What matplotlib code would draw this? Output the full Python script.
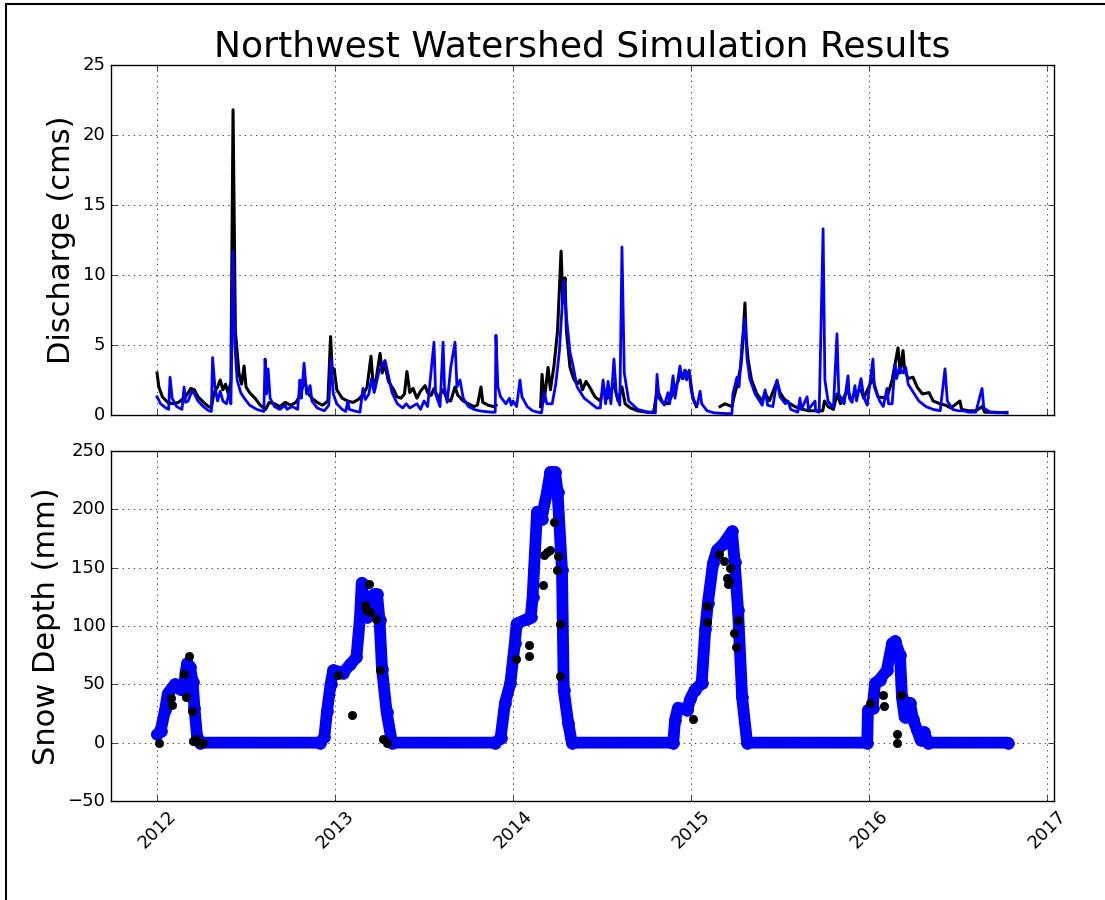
import numpy as np
import pandas as pd
import matplotlib
matplotlib.use('Agg')
import matplotlib.pyplot as plt
from matplotlib.patches import Rectangle

plt.style.use('classic')

# ---- discharge (cms), time in decimal years ----
obs_q_t = [2012.000, 2012.010, 2012.030, 2012.060, 2012.090, 2012.120, 2012.160, 2012.190,
           2012.210, 2012.230, 2012.270, 2012.290, 2012.305, 2012.320, 2012.340, 2012.355,
           2012.370, 2012.385, 2012.400, 2012.415, 2012.427, 2012.432, 2012.440, 2012.460,
           2012.475, 2012.489, 2012.500, 2012.520, 2012.550, 2012.580, 2012.600, 2012.610,
           2012.630, 2012.660, 2012.690, 2012.720, 2012.750, 2012.780, 2012.800, 2012.830,
           2012.845, 2012.870, 2012.900, 2012.930, 2012.960, 2012.975, 2012.985, 2012.995,
           2013.010, 2013.040, 2013.070, 2013.100, 2013.130, 2013.160, 2013.180, 2013.202,
           2013.215, 2013.230, 2013.253, 2013.265, 2013.280, 2013.300, 2013.330, 2013.348,
           2013.370, 2013.390, 2013.404, 2013.420, 2013.438, 2013.460, 2013.480, 2013.506,
           2013.520, 2013.540, 2013.556, 2013.580, 2013.607, 2013.630, 2013.650, 2013.674,
           2013.690, 2013.720, 2013.750, 2013.780, 2013.800, 2013.820, 2013.830, 2013.860,
           2013.890, 2013.905, 2014.000,
           2014.155, 2014.163, 2014.175, 2014.197, 2014.210, 2014.230, 2014.250, 2014.270,
           2014.280, 2014.292, 2014.300, 2014.320, 2014.340, 2014.360, 2014.376, 2014.390,
           2014.410, 2014.430, 2014.460, 2014.490, 2014.510, 2014.530, 2014.567, 2014.590,
           2014.612, 2014.630, 2014.660, 2014.700, 2014.750, 2014.790, 2014.810, 2014.840,
           2014.870, 2014.900, 2014.930, 2014.940, 2014.955, 2014.966, 2014.980, 2014.990,
           2015.010, 2015.030, 2015.100,
           2015.163, 2015.190, 2015.210, 2015.230, 2015.240, 2015.260, 2015.280, 2015.290,
           2015.303, 2015.310, 2015.320, 2015.340, 2015.370, 2015.400, 2015.416, 2015.440,
           2015.483, 2015.500, 2015.520, 2015.545, 2015.570, 2015.600, 2015.630, 2015.660,
           2015.700, 2015.740, 2015.750, 2015.770, 2015.800, 2015.820, 2015.840, 2015.880,
           2015.900, 2015.920, 2015.955, 2015.970, 2016.020, 2016.050, 2016.100, 2016.130,
           2016.163, 2016.175, 2016.191, 2016.200, 2016.220, 2016.247, 2016.270, 2016.300,
           2016.337, 2016.360, 2016.400, 2016.430, 2016.460, 2016.511, 2016.520, 2016.560,
           2016.600, 2016.635, 2016.650, 2016.700, 2016.775]
obs_q_v = [3.0, 2.0, 1.3, 0.9, 0.8, 0.9, 1.3, 1.9,
           1.8, 1.3, 0.8, 0.6, 0.5, 1.6, 2.0, 2.5,
           1.8, 2.2, 1.5, 2.4, 21.8, 16.0, 6.0, 3.0,
           2.2, 3.5, 2.0, 1.6, 1.2, 0.7, 0.5, 0.4,
           0.9, 0.8, 0.6, 0.9, 0.7, 0.9, 1.3, 2.5,
           1.6, 1.2, 0.9, 0.7, 1.0, 5.6, 3.0, 3.3,
           1.8, 1.2, 1.0, 0.9, 1.1, 1.5, 2.0, 4.2,
           2.0, 2.5, 4.4, 3.0, 3.6, 2.4, 1.8, 1.3,
           1.2, 1.5, 3.1, 1.6, 1.9, 1.2, 1.7, 2.1,
           1.6, 1.4, 1.9, 1.2, 1.8, 1.1, 1.0, 2.0,
           1.4, 1.0, 0.8, 0.6, 0.7, 2.0, 0.9, 0.7,
           0.6, 0.7, np.nan,
           0.6, 2.9, 1.0, 3.4, 1.8, 3.5, 6.0, 11.7,
           8.0, 9.8, 6.0, 3.4, 2.6, 2.2, 2.5, 1.8,
           2.4, 2.0, 1.3, 1.0, 1.9, 1.2, 2.2, 1.0,
           2.0, 0.8, 0.5, 0.3, 0.2, 0.2, 1.8, 0.9,
           0.8, 1.6, 2.5, 3.0, 2.6, 3.2, 2.8, 3.1,
           1.2, 0.6, np.nan,
           0.6, 0.8, 0.7, 0.6, 1.2, 2.2, 3.5, 5.0,
           8.0, 5.5, 4.0, 2.5, 1.5, 1.0, 1.6, 1.0,
           2.4, 1.6, 1.2, 0.9, 0.7, 0.5, 0.4, 0.3,
           0.3, 0.3, 1.0, 0.6, 0.4, 1.5, 0.8, 1.8,
           1.0, 1.6, 1.8, 1.2, 2.6, 1.3, 1.2, 2.5,
           4.8, 3.0, 4.6, 3.2, 2.6, 2.7, 2.0, 1.5,
           1.6, 1.0, 0.8, 0.7, 0.5, 1.0, 0.4, 0.3,
           0.3, 0.6, 0.2, 0.2, 0.15]

sim_q_t = [2012.000, 2012.020, 2012.050, 2012.065, 2012.073, 2012.085, 2012.110, 2012.140,
           2012.152, 2012.160, 2012.175, 2012.195, 2012.210, 2012.230, 2012.260, 2012.290,
           2012.305, 2012.312, 2012.325, 2012.340, 2012.355, 2012.370, 2012.390, 2012.405,
           2012.415, 2012.427, 2012.437, 2012.450, 2012.470, 2012.490, 2012.520, 2012.560,
           2012.600, 2012.607, 2012.615, 2012.624, 2012.635, 2012.660, 2012.690, 2012.720,
           2012.730, 2012.760, 2012.790, 2012.803, 2012.810, 2012.826, 2012.840, 2012.860,
           2012.870, 2012.900, 2012.940, 2012.965, 2012.978, 2012.990, 2013.010, 2013.040,
           2013.060, 2013.072, 2013.080, 2013.120, 2013.140, 2013.157, 2013.170, 2013.190,
           2013.205, 2013.220, 2013.245, 2013.265, 2013.281, 2013.300, 2013.320, 2013.350,
           2013.380, 2013.400, 2013.420, 2013.460, 2013.480, 2013.500, 2013.520, 2013.556,
           2013.565, 2013.590, 2013.607, 2013.615, 2013.630, 2013.650, 2013.674, 2013.685,
           2013.702, 2013.720, 2013.750, 2013.780, 2013.810, 2013.840, 2013.880, 2013.900,
           2013.904, 2013.915, 2013.930, 2013.960, 2013.980, 2013.990, 2014.000, 2014.020,
           2014.039, 2014.050, 2014.080, 2014.110, 2014.140, 2014.160, 2014.175, 2014.190,
           2014.220, 2014.240, 2014.260, 2014.285, 2014.300, 2014.320, 2014.337, 2014.360,
           2014.400, 2014.440, 2014.470, 2014.490, 2014.506, 2014.520, 2014.534, 2014.550,
           2014.567, 2014.580, 2014.600, 2014.612, 2014.625, 2014.650, 2014.700, 2014.760,
           2014.800, 2014.809, 2014.820, 2014.850, 2014.871, 2014.880, 2014.899, 2014.910,
           2014.938, 2014.950, 2014.966, 2014.975, 2014.989, 2015.000, 2015.020, 2015.035,
           2015.051, 2015.060, 2015.090, 2015.130, 2015.200, 2015.230, 2015.235, 2015.258,
           2015.270, 2015.287, 2015.303, 2015.315, 2015.330, 2015.360, 2015.400, 2015.416,
           2015.430, 2015.460, 2015.483, 2015.500, 2015.530, 2015.545, 2015.560, 2015.600,
           2015.612, 2015.620, 2015.652, 2015.660, 2015.697, 2015.700, 2015.720, 2015.742,
           2015.752, 2015.770, 2015.800, 2015.820, 2015.830, 2015.860, 2015.882, 2015.890,
           2015.905, 2015.921, 2015.930, 2015.955, 2015.970, 2015.990, 2016.022, 2016.030,
           2016.060, 2016.080, 2016.101, 2016.110, 2016.130, 2016.146, 2016.155, 2016.170,
           2016.191, 2016.206, 2016.220, 2016.250, 2016.280, 2016.320, 2016.360, 2016.400,
           2016.427, 2016.440, 2016.470, 2016.500, 2016.530, 2016.560, 2016.600, 2016.635,
           2016.645, 2016.680, 2016.720, 2016.775]
sim_q_v = [1.3, 0.8, 0.5, 0.4, 2.7, 1.2, 0.6, 0.4,
           2.0, 0.9, 1.0, 1.7, 1.5, 1.0, 0.6, 0.3,
           0.25, 4.1, 2.0, 1.0, 1.7, 1.0, 0.8, 1.6,
           0.8, 11.7, 5.0, 2.5, 1.6, 1.2, 0.7, 0.4,
           0.25, 4.0, 1.5, 3.3, 1.2, 0.6, 0.4, 0.7,
           0.4, 0.6, 0.4, 2.5, 1.2, 3.7, 1.5, 2.1,
           1.0, 0.5, 0.3, 0.7, 4.0, 1.5, 0.8, 0.4,
           0.25, 1.0, 0.4, 0.25, 0.2, 1.9, 1.1, 1.5,
           2.6, 1.6, 3.0, 3.6, 3.9, 2.8, 1.6, 0.8,
           0.5, 0.8, 0.5, 0.8, 0.4, 1.0, 0.6, 5.2,
           1.5, 0.6, 5.2, 2.0, 0.9, 3.4, 5.2, 2.0,
           2.5, 1.2, 0.6, 0.4, 0.3, 0.25, 0.2, 0.2,
           5.7, 2.0, 1.3, 0.8, 1.2, 0.7, 1.0, 0.6,
           2.5, 1.3, 0.6, 0.3, 0.2, 0.15, 1.6, 0.8,
           0.8, 2.2, 4.5, 9.6, 7.0, 4.5, 3.5, 2.0,
           1.2, 0.8, 0.5, 0.5, 2.5, 0.8, 2.4, 0.8,
           4.0, 1.5, 0.7, 12.0, 3.0, 1.0, 0.4, 0.2,
           0.15, 2.9, 1.2, 0.7, 1.6, 0.8, 2.8, 1.2,
           3.5, 2.6, 3.2, 2.5, 3.2, 1.8, 0.9, 0.7,
           1.7, 0.8, 0.3, 0.15, 0.1, 0.1, 1.5, 2.7,
           2.0, 5.2, 6.9, 4.0, 2.6, 1.5, 0.7, 1.8,
           0.7, 0.6, 2.5, 1.3, 0.8, 1.0, 0.4, 0.2,
           1.2, 0.4, 1.3, 0.4, 1.0, 0.3, 0.2, 13.3,
           2.5, 1.0, 0.5, 5.8, 1.5, 0.8, 2.8, 1.2,
           0.9, 2.1, 1.0, 2.6, 1.3, 0.7, 4.0, 2.0,
           1.0, 0.6, 1.9, 0.8, 0.8, 3.6, 2.6, 3.4,
           3.0, 3.4, 2.2, 1.6, 1.0, 0.6, 0.4, 0.3,
           3.3, 1.0, 0.4, 0.3, 0.3, 0.2, 0.2, 1.9,
           0.5, 0.2, 0.15, 0.2]

# ---- snow depth (mm) ----
sim_sd_t = [2012.000, 2012.020, 2012.045, 2012.060, 2012.090, 2012.100, 2012.130, 2012.150,
            2012.160, 2012.170, 2012.185, 2012.200, 2012.210, 2012.225, 2012.240,
            2012.916, 2012.940, 2012.955, 2012.975, 2012.990, 2013.045, 2013.085, 2013.120,
            2013.140, 2013.150, 2013.165, 2013.180, 2013.200, 2013.220, 2013.236, 2013.250,
            2013.264, 2013.290, 2013.320,
            2013.900, 2013.930, 2013.955, 2013.985, 2014.010, 2014.020, 2014.080, 2014.100,
            2014.110, 2014.135, 2014.160, 2014.190, 2014.210, 2014.236, 2014.250, 2014.275,
            2014.285, 2014.310, 2014.330,
            2014.900, 2014.910, 2014.927, 2014.980, 2014.994, 2015.020, 2015.060, 2015.080,
            2015.095, 2015.124, 2015.146, 2015.180, 2015.230, 2015.245, 2015.264, 2015.287,
            2015.315,
            2015.990, 2015.994, 2016.020, 2016.034, 2016.060, 2016.100, 2016.130, 2016.146,
            2016.174, 2016.185, 2016.200, 2016.230, 2016.247, 2016.270, 2016.290, 2016.310,
            2016.330, 2016.780]
sim_sd_v = [7, 10, 28, 42, 48, 50, 46, 45,
            60, 68, 65, 52, 30, 5, 0,
            0, 5, 27, 50, 62, 60, 67, 73,
            107, 137, 118, 108, 125, 127, 127, 105,
            63, 26, 0,
            0, 4, 34, 51, 85, 102, 106, 108,
            125, 198, 192, 214, 232, 232, 215, 148,
            45, 17, 0,
            0, 19, 30, 28, 37, 45, 51, 97,
            120, 154, 165, 170, 181, 155, 114, 39,
            0,
            0, 28, 30, 51, 54, 62, 85, 87,
            75, 39, 22, 34, 20, 11, 2, 9,
            0, 0]

obs_sd_t = [2012.010, 2012.080, 2012.082, 2012.150, 2012.160, 2012.180, 2012.195, 2012.200,
            2012.220, 2012.236, 2012.258,
            2013.017, 2013.095, 2013.168, 2013.172, 2013.190, 2013.195, 2013.230, 2013.250,
            2013.270, 2013.290,
            2014.016, 2014.090, 2014.092, 2014.170, 2014.172, 2014.190, 2014.210, 2014.230,
            2014.247, 2014.250, 2014.264, 2014.266,
            2015.010, 2015.090, 2015.092, 2015.157, 2015.185, 2015.200, 2015.205, 2015.215,
            2015.220, 2015.240, 2015.250, 2015.264,
            2016.007, 2016.080, 2016.085, 2016.157, 2016.159, 2016.180]
obs_sd_v = [0, 38, 32, 59, 39, 74, 27, 1,
            3, 0, 0,
            58, 24, 118, 114, 136, 112, 106, 62,
            3, 0,
            72, 74, 84, 135, 161, 163, 165, 189,
            148, 160, 102, 57,
            20, 117, 103, 162, 156, 141, 136, 138,
            150, 94, 82, 105,
            34, 41, 31, 7, 0, 41]

T0 = pd.Timestamp('2012-01-01')


def to_dates(years):
    days = (np.asarray(years, dtype=float) - 2012.0) * 365.25
    return T0 + pd.to_timedelta(days, unit='D')


fig = plt.figure(figsize=(11.05, 9.0), dpi=100, facecolor='white')
ax1 = fig.add_axes([0.1005, 0.5389, 0.8533, 0.3889])
ax2 = fig.add_axes([0.1005, 0.1100, 0.8533, 0.3889], sharex=ax1)

ax1.plot(to_dates(obs_q_t), obs_q_v, color='k', lw=2.2)
ax1.plot(to_dates(sim_q_t), sim_q_v, color='b', lw=2)
ax1.set_ylim(0, 25)
ax1.set_yticks([0, 5, 10, 15, 20, 25])
ax1.set_ylabel('Discharge (cms)', fontsize=22)
ax1.set_title('Northwest Watershed Simulation Results', fontsize=26, y=1.005)
ax1.grid(True)
plt.setp(ax1.get_xticklabels(), visible=False)

ax2.plot(to_dates(sim_sd_t), sim_sd_v, color='b', lw=8.5, marker='o', ms=8.5,
         mec='b', mfc='b', solid_joinstyle='round', solid_capstyle='round')
ax2.plot(to_dates(obs_sd_t), obs_sd_v, 'o', color='k', ms=6, mec='k')
ax2.set_ylim(-50, 250)
ax2.set_yticks([-50, 0, 50, 100, 150, 200, 250])
ax2.set_ylabel('Snow Depth (mm)', fontsize=22)
ax2.grid(True)

xl = to_dates([2011.7416, 2017.039])
ax2.set_xlim(xl[0], xl[1])
for lab in ax2.get_xticklabels():
    lab.set_rotation(45)

for ax in (ax1, ax2):
    ax.set_facecolor('white')
    ax.tick_params(labelsize=13)

# outer frame around the figure
fig.patches.append(Rectangle((5.5 / 1105, -0.02), 1.1, 1 - 3.5 / 900 + 0.02,
                             transform=fig.transFigure, fill=False,
                             edgecolor='k', lw=1.5, zorder=-1))

fig.savefig('out.png', dpi=100, facecolor='white')
